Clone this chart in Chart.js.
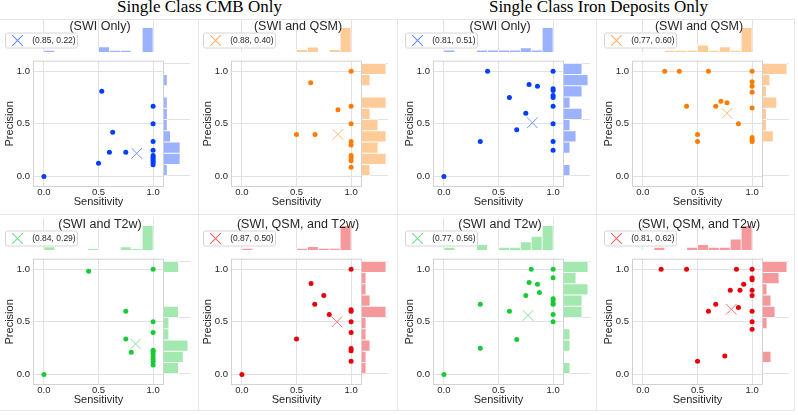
<!DOCTYPE html>
<html><head><meta charset="utf-8">
<script src="https://cdn.jsdelivr.net/npm/chart.js@4/dist/chart.umd.min.js"></script>
<style>
html,body{margin:0;padding:0;background:#fff;}
#wrap{position:relative;width:798px;height:415px;overflow:hidden;background:#fff;}
#wrap canvas{position:absolute;}
.sup{position:absolute;top:-3px;width:399px;text-align:center;font-family:"Liberation Serif","Times New Roman",serif;font-size:17px;line-height:20px;color:#000;white-space:nowrap;}
.ln{position:absolute;background:#e6e6e6;}
</style></head><body><div id="wrap"></div>
<script>
// ---------------- DATA ----------------
const groupTitles = ["Single Class CMB Only", "Single Class Iron Deposits Only"];
const panelTitles = ["(SWI Only)", "(SWI and QSM)", "(SWI and T2w)", "(SWI, QSM, and T2w)"];
const axisTicks = [0, 0.5, 1.0];
const histBinCenters = [0.05, 0.15, 0.25, 0.35, 0.45, 0.55, 0.65, 0.75, 0.85, 0.95];

// CMB, SWI only
const cmbSwiOnlyX = [0, 0.53, 0.50, 0.63, 0.60, 0.75, 1, 1, 1, 1, 1, 1, 1, 1, 1, 1];
const cmbSwiOnlyY = [0, 0.81, 0.125, 0.42, 0.23, 0.23, 0.667, 0.5, 0.333, 0.25, 0.2, 0.182, 0.167, 0.15, 0.133, 0.111];
const cmbSwiOnlyMean = [0.85, 0.22];
const cmbSwiOnlyTopHist = [1, 0, 0, 0, 0, 3, 1, 1, 0, 14];
const cmbSwiOnlyRightHist = [1, 5, 5, 2, 1, 1, 1, 0, 1, 0];
const cmbSwiOnlyRightAxisMax = 8.1;

// CMB, SWI and QSM
const cmbSwiQsmX = [0.63, 0.88, 0.50, 0.67, 1, 1, 1, 1, 1, 1, 1, 1, 1];
const cmbSwiQsmY = [0.89, 0.635, 0.40, 0.40, 1.0, 0.667, 0.5, 0.333, 0.30, 0.2, 0.175, 0.15, 0.087];
const cmbSwiQsmMean = [0.88, 0.40];
const cmbSwiQsmTopHist = [0, 0, 0, 0, 0, 1, 2, 0, 1, 10];
const cmbSwiQsmRightHist = [1, 3, 2, 3, 2, 1, 3, 0, 1, 3];

// CMB, SWI and T2w
const cmbSwiT2wX = [0, 0.41, 0.75, 0.75, 0.80, 1, 1, 1, 1, 1, 1, 1, 1, 1, 1];
const cmbSwiT2wY = [0, 0.98, 0.60, 0.336, 0.21, 1.0, 0.5, 0.40, 0.23, 0.215, 0.195, 0.165, 0.143, 0.12, 0.09];
const cmbSwiT2wMean = [0.84, 0.29];
const cmbSwiT2wTopHist = [2, 0, 0, 0, 1, 0, 0, 2, 1, 16];
const cmbSwiT2wRightHist = [3, 4, 5, 1, 1, 3, 0, 0, 0, 3];

// CMB, SWI, QSM and T2w
const cmbAllX = [0, 0.50, 0.633, 0.667, 0.75, 0.80, 1, 1, 1, 1, 1, 1, 1, 1];
const cmbAllY = [0, 0.336, 0.865, 0.667, 0.75, 0.57, 1.0, 0.615, 0.60, 0.5, 0.40, 0.246, 0.225, 0.126];
const cmbAllMean = [0.87, 0.50];
const cmbAllTopHist = [1, 0, 0, 0, 0, 1, 2, 1, 1, 14];
const cmbAllRightHist = [1, 1, 2, 1, 1, 6, 2, 1, 1, 6];

// Iron, SWI only
const ironSwiOnlyX = [0, 0.333, 0.40, 0.60, 0.667, 0.75, 0.78, 0.857, 1, 1, 1, 1, 1, 1, 1, 1, 1];
const ironSwiOnlyY = [0, 0.333, 1.0, 0.75, 0.444, 0.60, 0.875, 0.857, 1.0, 0.833, 0.818, 0.769, 0.75, 0.667, 0.5, 0.333, 0.25];
const ironSwiOnlyMean = [0.81, 0.51];
const ironSwiOnlyTopHist = [1, 0, 0, 1, 1, 1, 1, 2, 1, 12];
const ironSwiOnlyRightHist = [1, 0, 1, 2, 1, 3, 1, 3, 4, 3];

// Iron, SWI and QSM
const ironSwiQsmX = [0.2, 0.333, 0.6, 0.4, 0.5, 0.5, 0.667, 0.714, 0.77, 0.875, 1, 1, 1, 1, 1, 1, 1, 1];
const ironSwiQsmY = [1.0, 1.0, 1.0, 0.667, 0.40, 0.333, 0.667, 0.714, 0.70, 0.50, 1.0, 0.9, 0.857, 0.80, 0.65, 0.37, 0.35, 0.333];
const ironSwiQsmMean = [0.77, 0.60];
const ironSwiQsmTopHist = [0, 0, 1, 1, 1, 4, 1, 3, 1, 14];
const ironSwiQsmRightHist = [0, 0, 0, 3, 1, 1, 4, 1, 2, 7];

// Iron, SWI and T2w
const ironSwiT2wX = [0, 0.333, 0.333, 0.60, 0.667, 0.75, 0.78, 0.80, 0.857, 0.875, 1, 1, 1, 1, 1, 1, 1, 1];
const ironSwiT2wY = [0, 0.667, 0.25, 0.60, 0.333, 0.75, 0.875, 1.0, 0.857, 0.78, 1.0, 0.92, 0.72, 0.70, 0.675, 0.667, 0.57, 0.50];
const ironSwiT2wMean = [0.77, 0.56];
const ironSwiT2wTopHist = [1, 0, 0, 2, 0, 1, 1, 3, 5, 9];
const ironSwiT2wRightHist = [1, 0, 1, 1, 0, 3, 3, 4, 2, 4];

// Iron, SWI, QSM and T2w
const ironAllX = [0.167, 0.40, 0.857, 0.50, 0.75, 0.60, 0.667, 0.80, 0.889, 0.923, 0.875, 1, 1, 1, 1, 1, 1, 1, 1];
const ironAllY = [1.0, 1.0, 1.0, 0.125, 0.175, 0.60, 0.667, 0.80, 0.80, 0.857, 0.636, 1.0, 0.917, 0.90, 0.80, 0.75, 0.60, 0.50, 0.43];
const ironAllMean = [0.81, 0.62];
const ironAllTopHist = [0, 1, 0, 0, 1, 2, 1, 1, 4, 9];
const ironAllRightHist = [0, 2, 0, 0, 1, 3, 2, 1, 4, 6];

// ---------------- STYLE / LAYOUT ----------------
const COLORS = { blue: [2, 62, 255], orange: [255, 124, 0], green: [26, 201, 56], red: [232, 0, 11] };
const rgba = (c, a) => `rgba(${c[0]},${c[1]},${c[2]},${a})`;
const mix = (c, a) => `rgb(${Math.round(c[0] * a + 255 * (1 - a))},${Math.round(c[1] * a + 255 * (1 - a))},${Math.round(c[2] * a + 255 * (1 - a))})`;
const FONT = '"Liberation Sans", Arial, Helvetica, sans-serif';
const TXT = '#262626';
const GRID = '#e2e2e2';
const SPINE = '#d2d2d2';
const colX = [0, 198, 398, 597];
const plotL = [33, 231, 433, 632];
const plotT = [52, 250];
const PW = 131, PH = 135;
const TOPH = 32, TOPCANVAS = 36, RIGHTW = 26;

Chart.defaults.font.family = FONT;
Chart.defaults.color = TXT;

const panels = [
  { col: 0, row: 0, title: panelTitles[0], color: COLORS.blue,   x: cmbSwiOnlyX, y: cmbSwiOnlyY, mean: cmbSwiOnlyMean, top: cmbSwiOnlyTopHist, right: cmbSwiOnlyRightHist, rightMax: cmbSwiOnlyRightAxisMax },
  { col: 1, row: 0, title: panelTitles[1], color: COLORS.orange, x: cmbSwiQsmX, y: cmbSwiQsmY, mean: cmbSwiQsmMean, top: cmbSwiQsmTopHist, right: cmbSwiQsmRightHist },
  { col: 2, row: 0, title: panelTitles[0], color: COLORS.blue,   x: ironSwiOnlyX, y: ironSwiOnlyY, mean: ironSwiOnlyMean, top: ironSwiOnlyTopHist, right: ironSwiOnlyRightHist },
  { col: 3, row: 0, title: panelTitles[1], color: COLORS.orange, x: ironSwiQsmX, y: ironSwiQsmY, mean: ironSwiQsmMean, top: ironSwiQsmTopHist, right: ironSwiQsmRightHist },
  { col: 0, row: 1, title: panelTitles[2], color: COLORS.green,  x: cmbSwiT2wX, y: cmbSwiT2wY, mean: cmbSwiT2wMean, top: cmbSwiT2wTopHist, right: cmbSwiT2wRightHist },
  { col: 1, row: 1, title: panelTitles[3], color: COLORS.red,    x: cmbAllX, y: cmbAllY, mean: cmbAllMean, top: cmbAllTopHist, right: cmbAllRightHist },
  { col: 2, row: 1, title: panelTitles[2], color: COLORS.green,  x: ironSwiT2wX, y: ironSwiT2wY, mean: ironSwiT2wMean, top: ironSwiT2wTopHist, right: ironSwiT2wRightHist },
  { col: 3, row: 1, title: panelTitles[3], color: COLORS.red,    x: ironAllX, y: ironAllY, mean: ironAllMean, top: ironAllTopHist, right: ironAllRightHist }
];

const wrap = document.getElementById('wrap');

// faint panel frame lines
[[198, 19, 1, 392], [397, 19, 1, 392], [596, 19, 1, 392], [794, 19, 1, 392],
 [0, 19, 795, 1], [0, 214, 795, 1], [0, 410, 795, 1]].forEach(r => {
  const d = document.createElement('div'); d.className = 'ln';
  d.style.left = r[0] + 'px'; d.style.top = r[1] + 'px'; d.style.width = r[2] + 'px'; d.style.height = r[3] + 'px';
  wrap.appendChild(d);
});

groupTitles.forEach((t, i) => {
  const d = document.createElement('div'); d.className = 'sup';
  d.style.left = (i * 399) + 'px'; d.textContent = t; wrap.appendChild(d);
});

function addCanvas(left, top, w, h) {
  const c = document.createElement('canvas');
  c.width = w; c.height = h;
  c.style.left = left + 'px'; c.style.top = top + 'px';
  c.style.width = w + 'px'; c.style.height = h + 'px';
  wrap.appendChild(c);
  return c;
}
const setTicks = s => { s.ticks = axisTicks.map(v => ({ value: v })); };
const noPlugins = { legend: { display: false }, tooltip: { enabled: false }, title: { display: false } };

const boxPlugin = {
  id: 'box',
  beforeDatasetsDraw(chart) {
    const { ctx, chartArea: a } = chart;
    ctx.save(); ctx.strokeStyle = SPINE; ctx.lineWidth = 1;
    ctx.strokeRect(a.left + 0.5, a.top + 0.5, a.right - a.left - 1, a.bottom - a.top - 1);
    ctx.restore();
  }
};

function makeOverlay(p) {
  return {
    id: 'overlay' + p.col + p.row,
    afterDraw(chart) {
      const ctx = chart.ctx, a = chart.chartArea, H = chart.height;
      ctx.save();
      // subtitle
      ctx.font = `12.5px ${FONT}`; ctx.fillStyle = TXT; ctx.textAlign = 'center'; ctx.textBaseline = 'alphabetic';
      ctx.fillText(p.title, a.left + PW / 2 + 1.5, H - 22);
      // legend box
      const lx = a.left - 27.5, ly = H - 19, lw = 72, lh = 15;
      ctx.beginPath();
      if (ctx.roundRect) ctx.roundRect(lx, ly, lw, lh, 2); else ctx.rect(lx, ly, lw, lh);
      ctx.fillStyle = '#ffffff'; ctx.fill();
      ctx.strokeStyle = '#d6d6d6'; ctx.lineWidth = 1; ctx.stroke();
      // legend text
      ctx.font = `8.5px ${FONT}`; ctx.fillStyle = TXT; ctx.textAlign = 'left'; ctx.textBaseline = 'middle';
      ctx.fillText(`(${p.mean[0].toFixed(2)}, ${p.mean[1].toFixed(2)})`, lx + 26.7, ly + lh / 2 + 0.5);
      // legend marker (same style as the mean marker)
      const mx = lx + 12, my = ly + lh / 2, o = 5.3;
      ctx.beginPath();
      ctx.moveTo(mx - o, my - o); ctx.lineTo(mx + o, my + o);
      ctx.moveTo(mx - o, my + o); ctx.lineTo(mx + o, my - o);
      ctx.strokeStyle = mix(p.color, 0.6); ctx.lineWidth = 1.1; ctx.stroke();
      ctx.restore();
    }
  };
}

panels.forEach(p => {
  const cx = colX[p.col], pl = plotL[p.col], pt = plotT[p.row];
  const yW = pl - cx;
  const W = yW + PW;

  // ---- main scatter ----
  const cMain = addCanvas(cx, pt, W, PH + 26);
  new Chart(cMain, {
    type: 'scatter',
    data: {
      datasets: [
        { data: p.x.map((v, i) => ({ x: v, y: p.y[i] })), backgroundColor: rgba(p.color, 1), borderColor: rgba(p.color, 1),
          pointRadius: 2.5, pointBorderWidth: 0, pointHoverRadius: 2.5 },
        { data: [{ x: p.mean[0], y: p.mean[1] }], pointStyle: 'crossRot', pointRadius: 7.5, pointHoverRadius: 7.5,
          borderColor: mix(p.color, 0.55), backgroundColor: 'transparent', pointBorderWidth: 1 }
      ]
    },
    options: {
      responsive: false, animation: false, events: [],
      layout: { autoPadding: false, padding: 0 },
      plugins: noPlugins,
      scales: {
        x: {
          type: 'linear', min: -0.1, max: 1.1, afterBuildTicks: setTicks, afterFit: s => { s.height = 26; },
          grid: { color: GRID, drawTicks: false }, border: { display: false },
          ticks: { padding: 0, maxRotation: 0, autoSkip: false, font: { size: 9.5 }, color: TXT, callback: v => Number(v).toFixed(1) },
          title: { display: true, text: 'Sensitivity', font: { size: 11 }, color: TXT, padding: { top: 0, bottom: 4.9 } }
        },
        y: {
          type: 'linear', min: -0.1, max: 1.1, afterBuildTicks: setTicks, afterFit: s => { s.width = yW; },
          grid: { color: GRID, drawTicks: false }, border: { display: false },
          ticks: { padding: 3, autoSkip: false, font: { size: 9.5 }, color: TXT, callback: v => Number(v).toFixed(1) },
          title: { display: true, text: 'Precision', font: { size: 11 }, color: TXT, padding: { top: yW - 23 - 6.6, bottom: 0 } }
        }
      }
    },
    plugins: [boxPlugin]
  });

  // ---- top marginal histogram (+ subtitle & legend) ----
  const topMax = Math.max(...p.top) * TOPH / 24.5;
  const cTop = addCanvas(cx, pt - TOPCANVAS, W, TOPCANVAS);
  new Chart(cTop, {
    type: 'bar',
    data: {
      datasets: [{
        data: histBinCenters.map((b, i) => ({ x: b, y: p.top[i] || null })),
        backgroundColor: rgba(p.color, 0.4), borderColor: '#ffffff', borderWidth: 0.75,
        barPercentage: 1, categoryPercentage: 1
      }]
    },
    options: {
      responsive: false, animation: false, events: [],
      layout: { autoPadding: false, padding: { left: yW, right: 0, top: TOPCANVAS - TOPH, bottom: 0 } },
      plugins: noPlugins,
      scales: {
        x: { type: 'linear', offset: false, min: -0.1, max: 1.1, afterBuildTicks: setTicks, afterFit: s => { s.height = 0; },
             grid: { color: GRID, drawTicks: false, offset: false }, border: { display: false }, ticks: { display: false } },
        y: { type: 'linear', min: 0, max: topMax, display: false }
      }
    },
    plugins: [makeOverlay(p)]
  });

  // ---- right marginal histogram ----
  const rightMax = p.rightMax || Math.max(...p.right) * RIGHTW / 24;
  const cRight = addCanvas(pl + PW, pt, RIGHTW + 1, PH);
  new Chart(cRight, {
    type: 'bar',
    data: {
      datasets: [{
        data: histBinCenters.map((b, i) => ({ y: b, x: p.right[i] || null })),
        backgroundColor: rgba(p.color, 0.4), borderColor: '#ffffff', borderWidth: 0.75,
        barPercentage: 1, categoryPercentage: 1
      }]
    },
    options: {
      indexAxis: 'y',
      responsive: false, animation: false, events: [],
      layout: { autoPadding: false, padding: { left: 0, right: 1, top: 0, bottom: 0 } },
      plugins: noPlugins,
      scales: {
        y: { type: 'linear', offset: false, min: -0.1, max: 1.1, afterBuildTicks: setTicks, afterFit: s => { s.width = 0; },
             grid: { color: GRID, drawTicks: false, offset: false }, border: { display: false }, ticks: { display: false } },
        x: { type: 'linear', min: 0, max: rightMax, display: false }
      }
    }
  });
});
</script>
</body></html>
